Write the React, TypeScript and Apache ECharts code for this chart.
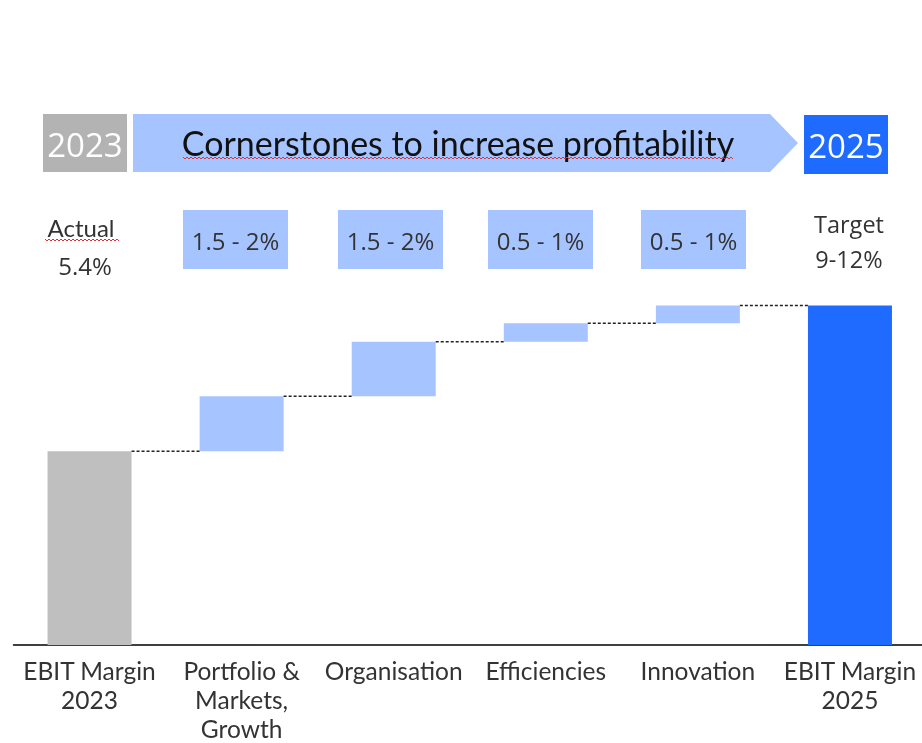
import React, { useEffect, useRef } from "react";
import * as echarts from "echarts";

const categories = [
  "EBIT Margin\n2023",
  "Portfolio &\nMarkets,\nGrowth",
  "Organisation",
  "Efficiencies",
  "Innovation",
  "EBIT Margin\n2025",
];
const startValue = 5.4;
const stepValues = [1.53, 1.52, 0.51, 0.5];
const rangeLabels = ["1.5 - 2%", "1.5 - 2%", "0.5 - 1%", "0.5 - 1%"];
const actualLabel = ["Actual", "5.4%"];
const targetLabel = ["Target", "9-12%"];
const headerStart = "2023";
const headerEnd = "2025";
const headerTitle = "Cornerstones to increase profitability";

const GRAY = "#bfbfbf";
const LIGHT = "#a6c4ff";
const BLUE = "#1f6bff";
const TEXT = "#333333";

function squiggle(x0: number, x1: number, y: number) {
  const pts: number[][] = [];
  let up = true;
  for (let x = x0; x <= x1; x += 2) {
    pts.push([x, y + (up ? -1 : 1)]);
    up = !up;
  }
  return pts;
}

export default function App() {
  const ref = useRef<HTMLDivElement>(null);
  useEffect(() => {
    if (!ref.current) return;
    const chart = echarts.init(ref.current, undefined, { renderer: "svg" });

    const endValue = startValue + stepValues.reduce((a, b) => a + b, 0);
    const bases: number[] = [0];
    const heights: number[] = [startValue];
    let cum = startValue;
    stepValues.forEach((v) => {
      bases.push(cum);
      heights.push(v);
      cum += v;
    });
    bases.push(0);
    heights.push(endValue);
    const colors = [GRAY, LIGHT, LIGHT, LIGHT, LIGHT, BLUE];

    const connectors: number[][] = [];
    for (let i = 0; i < categories.length - 1; i++) {
      connectors.push([i, bases[i] + heights[i]]);
    }

    const boxX = [183, 338, 488, 641];
    const graphics: any[] = [
      { type: "rect", shape: { x: 43, y: 114, width: 84, height: 58 }, style: { fill: "#b3b3b3" } },
      {
        type: "text",
        style: { text: headerStart, x: 85, y: 144, textAlign: "center", textVerticalAlign: "middle", font: "33px 'Open Sans'", fill: "#ffffff" },
      },
      {
        type: "polygon",
        shape: { points: [[133, 114], [770, 114], [798, 143], [770, 172], [133, 172]] },
        style: { fill: LIGHT },
      },
      {
        type: "text",
        style: { text: headerTitle, x: 458, y: 142, textAlign: "center", textVerticalAlign: "middle", font: "34px Lato", fill: "#111111" },
      },
      { type: "polyline", shape: { points: squiggle(183, 733, 158) }, style: { stroke: "#e0303a", lineWidth: 1, fill: null } },
      { type: "rect", shape: { x: 804, y: 115, width: 84, height: 59 }, style: { fill: BLUE } },
      {
        type: "text",
        style: { text: headerEnd, x: 846, y: 145, textAlign: "center", textVerticalAlign: "middle", font: "33px 'Open Sans'", fill: "#ffffff" },
      },
      {
        type: "text",
        style: { text: actualLabel[0], x: 81, y: 227, textAlign: "center", textVerticalAlign: "middle", font: "24px Lato", fill: TEXT },
      },
      { type: "polyline", shape: { points: squiggle(45, 119, 240) }, style: { stroke: "#e0303a", lineWidth: 1, fill: null } },
      {
        type: "text",
        style: { text: actualLabel[1], x: 85, y: 265, textAlign: "center", textVerticalAlign: "middle", font: "24px 'Open Sans'", fill: TEXT },
      },
      {
        type: "text",
        style: { text: targetLabel[0], x: 849, y: 224, textAlign: "center", textVerticalAlign: "middle", font: "23.5px 'Open Sans'", fill: TEXT },
      },
      {
        type: "text",
        style: { text: targetLabel[1], x: 849, y: 259, textAlign: "center", textVerticalAlign: "middle", font: "23.5px 'Open Sans'", fill: TEXT },
      },
    ];
    rangeLabels.forEach((t, i) => {
      graphics.push({ type: "rect", shape: { x: boxX[i], y: 210, width: 105, height: 59 }, style: { fill: LIGHT } });
      graphics.push({
        type: "text",
        style: { text: t, x: boxX[i] + 52.5, y: 240, textAlign: "center", textVerticalAlign: "middle", font: "24px 'Open Sans'", fill: TEXT },
      });
    });

    chart.setOption({
      animation: false,
      grid: { left: 13.5, right: 4, top: 106.5, bottom: 96.5, containLabel: false },
      xAxis: {
        type: "category",
        data: categories,
        axisLine: { lineStyle: { color: "#000000", width: 1.5 } },
        axisTick: { show: false },
        axisLabel: {
          interval: 0,
          margin: 11,
          fontSize: 24.5,
          lineHeight: 29,
          color: TEXT,
          fontFamily: "Lato",
        },
      },
      yAxis: {
        type: "value",
        min: 0,
        max: 15,
        show: false,
        splitLine: { show: false },
      },
      graphic: graphics,
      series: [
        {
          type: "bar",
          stack: "w",
          barWidth: 84,
          data: bases,
          itemStyle: { color: "transparent" },
          silent: true,
        },
        {
          type: "bar",
          stack: "w",
          barWidth: 84,
          data: heights.map((v, i) => ({ value: v, itemStyle: { color: colors[i] } })),
        },
        {
          type: "custom",
          data: connectors,
          z: 5,
          renderItem: (params: any, api: any) => {
            const i = api.value(0);
            const y = api.value(1);
            const a = api.coord([i, y]);
            const b = api.coord([i + 1, y]);
            const half = 42;
            return {
              type: "line",
              shape: { x1: a[0] + half, y1: a[1], x2: b[0] - half, y2: a[1] },
              style: { stroke: "#222222", lineWidth: 1.5, lineDash: [3, 2] },
            };
          },
        },
      ],
    });
    return () => chart.dispose();
  }, []);
  return (
    <div
      ref={ref}
      style={{ position: "fixed", left: 0, top: 0, width: 930, height: 743 }}
    />
  );
}
